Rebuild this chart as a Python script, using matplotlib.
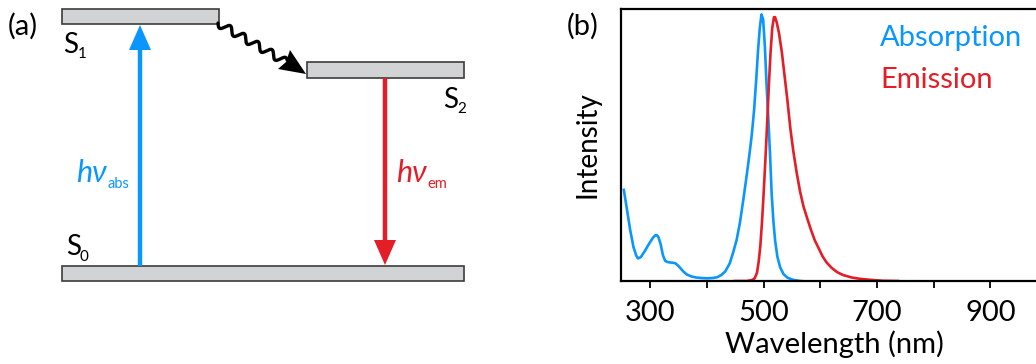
import matplotlib
matplotlib.use("Agg")
import matplotlib.pyplot as plt
import numpy as np
from matplotlib.patches import Rectangle, Polygon

plt.rcParams["font.family"] = ["Lato", "DejaVu Sans"]

BLUE = "#0A96FF"
RED = "#E31E26"
GRAY_FILL = "#D2D3D4"
GRAY_EDGE = "#3C3C3C"

# ── Spectra ──────────────────────────────────────────────────────────────────
abs_wl = [253, 258, 264, 270, 275, 278, 283, 290, 297, 304, 308, 311, 314, 318,
          322, 326, 330, 335, 340, 344, 348, 353, 358, 364, 372, 380, 390, 400,
          410, 418, 425, 432, 440, 446, 452, 458, 464, 470, 475, 479, 483, 487,
          490, 493, 496, 499, 502, 505, 508, 511, 514, 517, 520, 524, 529, 535,
          542, 552, 565, 580, 600]
abs_int = [0.335, 0.27, 0.19, 0.125, 0.093, 0.083, 0.088, 0.11, 0.135, 0.158,
           0.167, 0.169, 0.162, 0.135, 0.095, 0.074, 0.070, 0.068, 0.067, 0.065,
           0.058, 0.047, 0.035, 0.024, 0.017, 0.013, 0.011, 0.010, 0.011, 0.014,
           0.022, 0.035, 0.065, 0.105, 0.150, 0.215, 0.30, 0.39, 0.47, 0.54,
           0.63, 0.75, 0.85, 0.93, 0.98, 0.96, 0.86, 0.72, 0.60, 0.47, 0.32,
           0.22, 0.15, 0.09, 0.05, 0.025, 0.012, 0.004, 0.0, -0.003, -0.004]

em_wl = [449, 470, 480, 484, 488, 491, 494, 497, 500, 503, 506, 509, 512, 515,
         518, 520, 523, 527, 532, 537, 542, 547, 552, 558, 564, 570, 576, 583,
         590, 597, 604, 611, 620, 630, 640, 655, 670, 690, 710, 737]
em_int = [0.0, 0.0, 0.004, 0.01, 0.03, 0.07, 0.13, 0.22, 0.33, 0.45, 0.58,
          0.72, 0.84, 0.93, 0.97, 0.97, 0.95, 0.91, 0.84, 0.75, 0.66, 0.56,
          0.48, 0.40, 0.33, 0.275, 0.235, 0.19, 0.15, 0.12, 0.09, 0.068,
          0.048, 0.032, 0.022, 0.013, 0.008, 0.004, 0.001, 0.0]

tick_pos = [300, 400, 500, 600, 700, 800, 900, 1000]
tick_lab = ["300", "", "500", "", "700", "", "900", ""]

# ── Jablonski levels (pixel coords: x0, x1, y_top, y_bottom) ─────────────────
levels = {
    "S1": (62, 219, 9, 24),
    "S2": (307, 464, 62, 78),
    "S0": (62, 464, 266, 281),
}

W, H = 1036, 364
fig = plt.figure(figsize=(W / 100, H / 100), dpi=100)

# ── Panel (a) ─────────────────────────────────────────────────────────────────
axa = fig.add_axes([0, 0, 520 / W, 1])
axa.set_xlim(0, 520)
axa.set_ylim(H, 0)
axa.axis("off")

for name, (x0, x1, y0, y1) in levels.items():
    axa.add_patch(Rectangle((x0, y0), x1 - x0, y1 - y0, facecolor=GRAY_FILL,
                            edgecolor=GRAY_EDGE, linewidth=1.2))

# absorption arrow (up)
axa.plot([140, 140], [266, 48], color=BLUE, lw=3.2, solid_capstyle="butt")
axa.add_patch(Polygon([[129, 50], [151, 50], [140, 25]], closed=True,
                      facecolor=BLUE, edgecolor="none"))
# emission arrow (down)
axa.plot([385, 385], [78, 242], color=RED, lw=3.2, solid_capstyle="butt")
axa.add_patch(Polygon([[374, 240], [396, 240], [385, 265]], closed=True,
                      facecolor=RED, edgecolor="none"))

# wavy internal conversion arrow
p0 = np.array([218.0, 23.0])
p1 = np.array([286.0, 62.0])
d = p1 - p0
L = np.hypot(*d)
u = d / L
nrm = np.array([-u[1], u[0]])
t = np.linspace(0, L, 400)
amp = 3.8 * np.sin(2 * np.pi * t / 16.0)
pts = p0 + np.outer(t, u) + np.outer(amp, nrm)
axa.plot(pts[:, 0], pts[:, 1], color="black", lw=2.4, solid_capstyle="round")
axa.add_patch(Polygon([[290, 50], [286, 62], [278, 69], [306, 74]], closed=True,
                      facecolor="black", edgecolor="none"))

axa.text(8, 26, "(a)", fontsize=21, ha="left", va="center")
sub = dict(ha="left", va="baseline")
axa.text(63, 53, "S", fontsize=20, **sub)
axa.text(78, 58, "1", fontsize=11, **sub)
axa.text(443, 108, "S", fontsize=20, **sub)
axa.text(457, 113, "2", fontsize=11, **sub)
axa.text(66, 255, "S", fontsize=20, **sub)
axa.text(80, 261, "0", fontsize=11, **sub)
axa.text(76, 182, "hν", fontsize=22, style="italic", color=BLUE, **sub)
axa.text(107, 188, "abs", fontsize=10.5, color=BLUE, **sub)
axa.text(396, 182, "hν", fontsize=22, style="italic", color=RED, **sub)
axa.text(427, 188, "em", fontsize=10.5, color=RED, **sub)

# ── Panel (b) ─────────────────────────────────────────────────────────────────
left_px, right_px, top_px, bot_px = 621, 1047, 9, 281
axb = fig.add_axes([left_px / W, (H - bot_px) / H, (right_px - left_px) / W,
                    (bot_px - top_px) / H])
axb.plot(abs_wl, abs_int, color=BLUE, lw=1.9)
axb.plot(em_wl, em_int, color=RED, lw=1.9)
axb.set_xlim(248, 1000)
axb.set_ylim(0, 1.0)
axb.set_yticks([])
axb.set_xticks(tick_pos)
axb.set_xticklabels(tick_lab)
axb.tick_params(axis="x", direction="out", length=5, width=1.3, labelsize=21, pad=9)
for s in axb.spines.values():
    s.set_linewidth(1.6)
axb.set_xlabel("Wavelength (nm)", fontsize=21, labelpad=3)
axb.set_ylabel("Intensity", fontsize=20, labelpad=15)
axb.text(0.608, 0.94, "Absorption", color=BLUE, fontsize=21,
         transform=axb.transAxes, ha="left", va="top")
axb.text(0.608, 0.785, "Emission", color=RED, fontsize=21,
         transform=axb.transAxes, ha="left", va="top")
fig.text(567 / W, 1 - 26 / H, "(b)", fontsize=21, ha="left", va="center")

fig.savefig("out.png", dpi=100)
